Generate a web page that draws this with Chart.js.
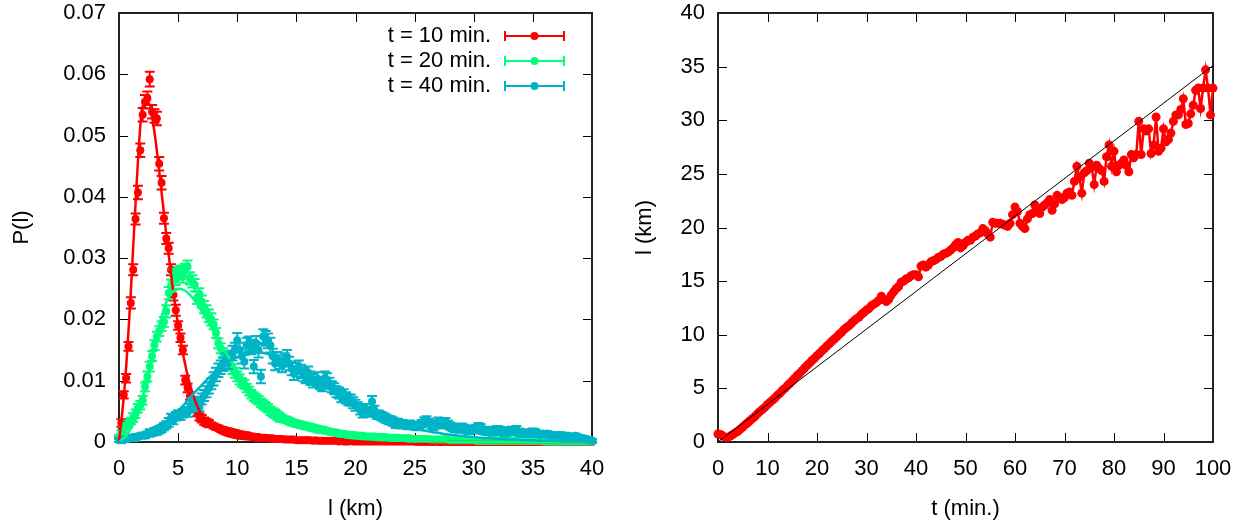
<!DOCTYPE html>
<html><head><meta charset="utf-8">
<script src="https://cdn.jsdelivr.net/npm/chart.js@4.4.1/dist/chart.umd.min.js"></script>
<style>
body{margin:0;background:#fff;}
#wrap{position:relative;width:1250px;height:523px;overflow:hidden;}
.c{position:absolute;top:0;width:625px;height:523px;}
</style></head>
<body><div id="wrap">
<div class="c" style="left:0"><canvas id="left" width="625" height="523"></canvas></div>
<div class="c" style="left:625px"><canvas id="right" width="625" height="523"></canvas></div>
</div>
<script>
// ---------- LEFT PANEL DATA ----------
const seriesNames = ['t = 10 min.', 't = 20 min.', 't = 40 min.'];
const seriesColors = ['#ff0000', '#00ff7f', '#00b4c8'];

const lengthKm = [
0,0.2,0.4,0.6,0.8,1,1.2,1.4,1.6,1.8,
2,2.2,2.4,2.6,2.8,3,3.2,3.4,3.6,3.8,
4,4.2,4.4,4.6,4.8,5,5.2,5.4,5.6,5.8,
6,6.2,6.4,6.6,6.8,7,7.2,7.4,7.6,7.8,
8,8.2,8.4,8.6,8.8,9,9.2,9.4,9.6,9.8,
10,10.2,10.4,10.6,10.8,11,11.2,11.4,11.6,11.8,
12,12.2,12.4,12.6,12.8,13,13.2,13.4,13.6,13.8,
14,14.2,14.4,14.6,14.8,15,15.2,15.4,15.6,15.8,
16,16.2,16.4,16.6,16.8,17,17.2,17.4,17.6,17.8,
18,18.2,18.4,18.6,18.8,19,19.2,19.4,19.6,19.8,
20,20.2,20.4,20.6,20.8,21,21.2,21.4,21.6,21.8,
22,22.2,22.4,22.6,22.8,23,23.2,23.4,23.6,23.8,
24,24.2,24.4,24.6,24.8,25,25.2,25.4,25.6,25.8,
26,26.2,26.4,26.6,26.8,27,27.2,27.4,27.6,27.8,
28,28.2,28.4,28.6,28.8,29,29.2,29.4,29.6,29.8,
30,30.2,30.4,30.6,30.8,31,31.2,31.4,31.6,31.8,
32,32.2,32.4,32.6,32.8,33,33.2,33.4,33.6,33.8,
34,34.2,34.4,34.6,34.8,35,35.2,35.4,35.6,35.8,
36,36.2,36.4,36.6,36.8,37,37.2,37.4,37.6,37.8,
38,38.2,38.4,38.6,38.8,39,39.2,39.4,39.6,39.8,
40];

const prob10 = [
.0008,.0031,.0077,.0104,.0156,.0227,.0281,.0364,.0407,.0476,
.0534,.0555,.0561,.0592,.0539,.0532,.0528,.0454,.0423,.0365,
.0332,.0316,.0281,.0240,.0215,.0190,.0170,.0150,.0101,.0088,
.0075,.0062,.0055,.0048,.0041,.0038,.0034,.0032,.0030,.0028,
.0026,.0024,.0023,.0021,.0020,.0019,.0018,.0017,.0016,.0015,
.0014,.0013,.0012,.0012,.0011,.0010,.0009,.0009,.0008,.0008,
.0007,.0007,.0007,.0006,.0006,.0006,.0005,.0005,.0005,.0005,
.0004,.0004,.0004,.0004,.0004,.0003,.0003,.0003,.0003,.0003,
.0003,.0003,.0002,.0003,.0002,.0002,.0002,.0002,.0002,.0002,
.0002,.0002,.0002,.0001,.0002,.0001,.0001,.0001,.0002,.0001,
.0001,.0001,.0001,.0001,.0001,.0001,.0001,.0001,.0001,.0001,
.0001,.0001,.0001,.0001,.0001,.0001,.0001,.0001,.0001,.0001,
.0001,.0001,.0001,.0001,.0001,.0001,0,.0001,0,.0001,
0,.0001,0,0,.0001,0,0,0,.0001,0,
0,0,0,0,0,0,0,0,0,0,
0,0,0,0,0,0,0,0,0,0,
0,0,0,0,0,0,0,0,0,0,
0,0,0,0,0,0,0,0,0,0,
0,0,0,0,0,0,0,0,0,0,
0,0,0,0,0,0,0,0,0,0,
0];
const err10 = [
.0002,.0006,.0006,.0007,.0007,.0009,.0009,.0009,.0011,.0011,
.0011,.0011,.0011,.0012,.0011,.0011,.0011,.0011,.0011,.0009,
.0009,.0009,.0009,.0009,.0009,.0007,.0007,.0007,.0007,.0007,
.0006,.0006,.0006,.0006,.0006,.0006,.0006,.0006,.0006,.0004,
.0004,.0004,.0004,.0004,.0004,.0004,.0004,.0004,.0004,.0004,
.0004,.0004,.0004,.0004,.0004,.0003,.0002,.0002,.0002,.0002,
.0002,.0002,.0002,.0002,.0002,.0002,.0002,.0002,.0002,.0002,
.0002,.0002,.0002,.0002,.0002,.0002,.0002,.0002,.0002,.0002,
.0002,.0002,.0002,.0002,.0002,.0002,.0002,.0002,.0002,.0002,
.0002,.0002,.0002,.0002,.0002,.0002,.0002,.0002,.0002,.0002,
.0001,.0001,.0001,.0001,.0001,.0001,.0001,.0001,.0001,.0001,
.0001,.0001,.0001,.0001,.0001,.0001,.0001,.0001,.0001,.0001,
.0001,.0001,.0001,.0001,.0001,.0001,.0001,.0001,.0001,.0001,
.0001,.0001,.0001,.0001,.0001,.0001,.0001,.0001,.0001,.0001,
.0001,.0001,.0001,.0001,.0001,.0001,.0001,.0001,.0001,.0001,
.0001,.0001,.0001,.0001,.0001,.0001,.0001,.0001,.0001,.0001,
.0001,.0001,.0001,.0001,.0001,.0001,.0001,.0001,.0001,.0001,
.0001,.0001,.0001,.0001,.0001,.0001,.0001,.0001,.0001,.0001,
.0001,.0001,.0001,.0001,.0001,.0001,.0001,.0001,.0001,.0001,
.0001,.0001,.0001,.0001,.0001,.0001,.0001,.0001,.0001,.0001,
.0001];

const prob20 = [
.0008,.0015,.0020,.0026,.0030,.0034,.0040,.0046,.0055,.0060,
.0068,.0090,.0107,.0123,.0140,.0158,.0172,.0181,.0189,.0196,
.0213,.0243,.0255,.0272,.0266,.0275,.0278,.0270,.0281,.0286,
.0267,.0262,.0256,.0235,.0241,.0229,.0220,.0213,.0206,.0200,
.0192,.0178,.0161,.0153,.0145,.0138,.0132,.0126,.0119,.0113,
.0107,.0102,.0097,.0094,.0088,.0083,.0078,.0074,.0071,.0068,
.0064,.0061,.0058,.0055,.0051,.0048,.0046,.0043,.0040,.0039,
.0037,.0036,.0034,.0032,.0031,.0030,.0029,.0028,.0027,.0026,
.0025,.0024,.0023,.0022,.0021,.0020,.0020,.0019,.0018,.0017,
.0016,.0016,.0015,.0014,.0013,.0013,.0012,.0012,.0011,.0011,
.0011,.0010,.0010,.0010,.0009,.0009,.0009,.0009,.0009,.0008,
.0008,.0008,.0008,.0008,.0007,.0007,.0007,.0007,.0007,.0006,
.0006,.0006,.0006,.0006,.0005,.0005,.0005,.0005,.0005,.0005,
.0005,.0005,.0004,.0004,.0004,.0004,.0004,.0004,.0004,.0004,
.0003,.0003,.0003,.0003,.0003,.0003,.0003,.0003,.0003,.0003,
.0003,.0002,.0002,.0002,.0002,.0002,.0002,.0002,.0002,.0002,
.0002,.0002,.0002,.0002,.0002,.0002,.0002,.0002,.0002,.0002,
.0002,.0002,.0002,.0002,.0002,.0002,.0002,.0002,.0002,.0002,
.0001,.0001,.0001,.0001,.0001,.0001,.0001,.0001,.0001,.0001,
.0001,.0001,.0001,.0001,.0001,.0001,.0001,.0001,.0001,.0001,
.0001];
const err20 = [
.0003,.0004,.0005,.0005,.0005,.0005,.0007,.0007,.0007,.0007,
.0007,.0007,.0008,.0008,.0008,.0008,.0008,.0008,.0008,.0008,
.0010,.0010,.0010,.0010,.0010,.0010,.0010,.0010,.0010,.0010,
.0010,.0010,.0010,.0010,.0010,.0010,.0010,.0010,.0010,.0010,
.0008,.0008,.0008,.0008,.0008,.0008,.0008,.0008,.0008,.0008,
.0008,.0008,.0007,.0007,.0007,.0007,.0007,.0007,.0007,.0007,
.0007,.0007,.0007,.0007,.0007,.0007,.0007,.0007,.0007,.0005,
.0005,.0005,.0005,.0005,.0005,.0005,.0005,.0005,.0005,.0005,
.0005,.0005,.0005,.0005,.0005,.0005,.0005,.0004,.0004,.0004,
.0004,.0004,.0004,.0004,.0004,.0004,.0004,.0004,.0004,.0004,
.0004,.0003,.0003,.0003,.0003,.0003,.0003,.0003,.0003,.0003,
.0003,.0003,.0003,.0003,.0003,.0003,.0003,.0003,.0003,.0003,
.0003,.0003,.0003,.0003,.0003,.0003,.0003,.0003,.0003,.0003,
.0003,.0003,.0003,.0003,.0003,.0003,.0003,.0003,.0003,.0003,
.0003,.0003,.0003,.0003,.0003,.0003,.0003,.0003,.0003,.0003,
.0002,.0002,.0002,.0002,.0002,.0002,.0002,.0002,.0002,.0002,
.0002,.0002,.0002,.0002,.0002,.0002,.0002,.0002,.0002,.0002,
.0002,.0002,.0002,.0002,.0002,.0002,.0002,.0002,.0002,.0002,
.0002,.0002,.0002,.0002,.0002,.0002,.0002,.0002,.0002,.0002,
.0002,.0002,.0002,.0002,.0002,.0002,.0002,.0002,.0002,.0002,
.0002];

const prob40 = [
.0003,.0004,.0003,.0005,.0006,.0007,.0008,.0006,.0009,.0010,
.0011,.0010,.0013,.0015,.0014,.0017,.0018,.0020,.0022,.0025,
.0028,.0032,.0039,.0036,.0042,.0045,.0043,.0047,.0050,.0048,
.0055,.0063,.0060,.0065,.0057,.0070,.0076,.0082,.0088,.0095,
.0103,.0110,.0117,.0122,.0127,.0134,.0130,.0138,.0145,.0150,
.0166,.0150,.0140,.0131,.0158,.0160,.0155,.0123,.0161,.0150,
.0107,.0172,.0169,.0165,.0158,.0140,.0128,.0136,.0130,.0125,
.0134,.0139,.0128,.0120,.0112,.0118,.0122,.0115,.0110,.0107,
.0112,.0104,.0100,.0098,.0103,.0095,.0092,.0104,.0101,.0096,
.0090,.0087,.0082,.0080,.0074,.0077,.0072,.0069,.0068,.0064,
.0060,.0058,.0052,.0047,.0055,.0050,.0048,.0066,.0052,.0045,
.0044,.0042,.0040,.0038,.0036,.0035,.0033,.0030,.0031,.0029,
.0030,.0028,.0027,.0029,.0027,.0026,.0025,.0027,.0030,.0034,
.0036,.0032,.0028,.0025,.0029,.0034,.0030,.0028,.0033,.0029,
.0026,.0024,.0022,.0023,.0021,.0024,.0022,.0020,.0019,.0021,
.0020,.0022,.0025,.0023,.0019,.0018,.0017,.0019,.0016,.0018,
.0020,.0019,.0017,.0015,.0016,.0018,.0019,.0017,.0020,.0016,
.0015,.0014,.0015,.0013,.0014,.0016,.0015,.0013,.0012,.0014,
.0013,.0014,.0011,.0012,.0010,.0011,.0012,.0010,.0011,.0009,
.0010,.0009,.0008,.0010,.0008,.0007,.0006,.0005,.0004,.0003,
.0002];
const err40 = [
.0003,.0003,.0003,.0004,.0004,.0004,.0004,.0004,.0004,.0004,
.0004,.0004,.0004,.0006,.0004,.0006,.0006,.0006,.0006,.0006,
.0006,.0007,.0007,.0007,.0007,.0007,.0007,.0007,.0007,.0007,
.0007,.0009,.0009,.0009,.0007,.0009,.0009,.0009,.0009,.0009,
.0011,.0011,.0011,.0011,.0011,.0011,.0011,.0011,.0012,.0012,
.0012,.0012,.0012,.0011,.0012,.0012,.0012,.0011,.0012,.0012,
.0011,.0012,.0012,.0012,.0012,.0012,.0011,.0011,.0011,.0011,
.0011,.0011,.0011,.0011,.0011,.0011,.0011,.0011,.0011,.0011,
.0011,.0011,.0011,.0009,.0011,.0009,.0009,.0011,.0011,.0009,
.0009,.0009,.0009,.0009,.0009,.0009,.0009,.0009,.0009,.0009,
.0009,.0007,.0007,.0007,.0007,.0007,.0007,.0009,.0007,.0007,
.0007,.0007,.0007,.0007,.0007,.0007,.0007,.0007,.0007,.0007,
.0006,.0006,.0006,.0006,.0006,.0006,.0006,.0006,.0006,.0006,
.0006,.0006,.0006,.0006,.0006,.0006,.0006,.0006,.0006,.0006,
.0006,.0006,.0006,.0006,.0006,.0006,.0006,.0006,.0006,.0006,
.0006,.0006,.0006,.0006,.0006,.0006,.0006,.0006,.0006,.0006,
.0006,.0006,.0006,.0006,.0006,.0006,.0006,.0006,.0006,.0006,
.0006,.0004,.0006,.0004,.0004,.0006,.0006,.0004,.0004,.0004,
.0004,.0004,.0004,.0004,.0004,.0004,.0004,.0004,.0004,.0004,
.0004,.0004,.0004,.0004,.0004,.0004,.0004,.0004,.0004,.0004,
.0003];

// fitted curves
const fitKm = [
0,0.5,1,1.5,2,2.5,3,3.5,4,4.5,
5,5.5,6,6.5,7,7.5,8,8.5,9,9.5,
10,10.5,11,11.5,12,12.5,13,13.5,14,14.5,
15,15.5,16,16.5,17,17.5,18,18.5,19,19.5,
20,20.5,21,21.5,22,22.5,23,23.5,24,24.5,
25,25.5,26,26.5,27,27.5,28,28.5,29,29.5,
30,30.5,31,31.5,32,32.5,33,33.5,34,34.5,
35,35.5,36,36.5,37,37.5,38,38.5,39,39.5,
40];
const fit10 = [
0,.0095,.0245,.0425,.0548,.0553,.0505,.0425,.0338,.0258,
.0190,.0135,.0094,.0064,.0044,.0030,.0021,.0015,.0011,.0008,
.0006,.0005,.0004,.0003,.0002,.0002,.0001,.0001,.0001,.0001,
0,0,0,0,0,0,0,0,0,0,
0,0,0,0,0,0,0,0,0,0,
0,0,0,0,0,0,0,0,0,0,
0,0,0,0,0,0,0,0,0,0,
0,0,0,0,0,0,0,0,0,0,
0];
const fit20 = [
0,.0008,.0022,.0042,.0072,.0112,.0158,.0198,.0228,.0244,
.0250,.0248,.0240,.0228,.0213,.0197,.0180,.0163,.0147,.0131,
.0117,.0103,.0091,.0080,.0070,.0061,.0053,.0046,.0040,.0034,
.0030,.0026,.0022,.0019,.0016,.0014,.0012,.0010,.0009,.0007,
.0006,.0005,.0005,.0004,.0003,.0003,.0002,.0002,.0002,.0001,
.0001,.0001,.0001,.0001,.0001,.0001,0,0,0,0,
0,0,0,0,0,0,0,0,0,0,
0,0,0,0,0,0,0,0,0,0,
0];
const fit40 = [
0,.0001,.0002,.0004,.0007,.0011,.0016,.0023,.0031,.0040,
.0050,.0061,.0072,.0083,.0093,.0103,.0112,.0120,.0128,.0134,
.0139,.0143,.0145,.0146,.0146,.0144,.0141,.0137,.0132,.0127,
.0121,.0115,.0109,.0102,.0096,.0090,.0083,.0077,.0071,.0066,
.0060,.0055,.0050,.0046,.0042,.0038,.0034,.0031,.0028,.0025,
.0023,.0020,.0018,.0016,.0015,.0013,.0012,.0011,.0010,.0009,
.0008,.0007,.0006,.0006,.0005,.0005,.0004,.0004,.0003,.0003,
.0003,.0002,.0002,.0002,.0002,.0001,.0001,.0001,.0001,.0001,
.0001];

// ---------- RIGHT PANEL DATA ----------
const timeMin = [
0,0.5,1,1.5,2,2.5,3,3.5,4,4.5,
5,5.5,6,6.5,7,7.5,8,8.5,9,9.5,
10,10.5,11,11.5,12,12.5,13,13.5,14,14.5,
15,15.5,16,16.5,17,17.5,18,18.5,19,19.5,
20,20.5,21,21.5,22,22.5,23,23.5,24,24.5,
25,25.5,26,26.5,27,27.5,28,28.5,29,29.5,
30,30.5,31,31.5,32,32.5,33,33.5,34,34.5,
35,35.5,36,36.5,37,37.5,38,38.5,39,39.5,
40,40.5,41,41.5,42,42.5,43,43.5,44,44.5,
45,45.5,46,46.5,47,47.5,48,48.5,49,49.5,
50,50.5,51,51.5,52,52.5,53,53.5,54,54.5,
55,55.5,56,56.5,57,57.5,58,58.5,59,59.5,
60,60.5,61,61.5,62,62.5,63,63.5,64,64.5,
65,65.5,66,66.5,67,67.5,68,68.5,69,69.5,
70,70.5,71,71.5,72,72.5,73,73.5,74,74.5,
75,75.5,76,76.5,77,77.5,78,78.5,79,79.5,
80,80.5,81,81.5,82,82.5,83,83.5,84,84.5,
85,85.5,86,86.5,87,87.5,88,88.5,89,89.5,
90,90.5,91,91.5,92,92.5,93,93.5,94,94.5,
95,95.5,96,96.5,97,97.5,98,98.5,99,99.5,
100];
const distanceKm = [
0.75,0.70,0.55,0.45,0.45,0.55,0.70,0.85,1.00,1.20,
1.40,1.60,1.80,2.00,2.20,2.40,2.65,2.85,3.05,3.25,
3.50,3.70,3.90,4.10,4.35,4.55,4.80,5.00,5.25,5.45,
5.70,5.95,6.20,6.40,6.65,6.90,7.15,7.35,7.60,7.80,
8.05,8.25,8.50,8.70,8.95,9.15,9.40,9.60,9.80,10.05,
10.25,10.50,10.70,10.85,11.10,11.30,11.50,11.65,11.90,12.10,
12.30,12.45,12.70,12.85,13.00,13.20,13.60,13.30,13.10,13.30,
13.70,14.00,14.30,14.50,14.90,15.00,15.20,15.30,15.50,15.60,
15.60,15.40,16.40,16.50,16.30,16.50,16.80,16.90,17.00,17.20,
17.30,17.50,17.60,17.70,17.90,18.10,18.40,18.60,18.10,18.30,
18.60,18.80,18.80,19.10,19.20,19.40,19.50,19.90,19.70,19.40,
19.10,20.50,20.40,20.40,20.40,20.30,20.20,20.10,20.40,21.20,
21.90,21.50,20.40,20.10,19.90,20.80,21.20,21.30,22.10,21.80,
21.30,21.90,22.10,22.30,22.60,21.60,22.20,23.00,22.80,22.60,
22.80,23.20,23.30,23.00,24.30,25.70,24.70,23.20,25.10,25.30,
26.00,25.60,24.00,25.80,25.50,25.30,24.30,26.60,27.70,25.70,
27.10,25.20,25.80,26.00,26.30,25.80,25.20,26.80,26.50,26.80,
29.90,26.80,29.20,29.00,29.20,26.90,27.70,30.30,27.10,27.40,
29.20,28.00,28.20,28.80,29.90,30.50,30.50,31.00,32.00,29.60,
29.70,30.60,31.40,32.80,33.00,31.10,33.00,34.70,33.00,30.50,
33.00];
const refLineT = [0, 100];
const refLineKm = [0, 35.1];

// ---------- RENDERING ----------
const FONT = "'Liberation Sans', Arial, sans-serif";
Chart.defaults.font.family = FONT;
Chart.defaults.font.size = 22;
Chart.defaults.color = '#000';
Chart.defaults.animation = false;

const pts = (xs, ys) => xs.map((x, i) => ({x: x, y: ys[i]}));

const framePlugin = {
  id: 'gpFrame',
  beforeDatasetsDraw(chart) {
    const {ctx, chartArea: {left, right, top, bottom}, scales: {x, y}} = chart;
    const L = 9;
    ctx.save();
    ctx.strokeStyle = '#000';
    ctx.lineWidth = 1;
    ctx.beginPath();
    x.ticks.forEach(t => {
      const px = Math.round(x.getPixelForValue(t.value)) + 0.5;
      ctx.moveTo(px, bottom); ctx.lineTo(px, bottom - L);
      ctx.moveTo(px, top); ctx.lineTo(px, top + L);
    });
    y.ticks.forEach(t => {
      const py = Math.round(y.getPixelForValue(t.value)) + 0.5;
      ctx.moveTo(left, py); ctx.lineTo(left + L, py);
      ctx.moveTo(right, py); ctx.lineTo(right - L, py);
    });
    ctx.stroke();
    ctx.lineWidth = 2;
    ctx.strokeStyle = '#222';
    ctx.strokeRect(left, top, right - left, bottom - top);
    ctx.restore();
  }
};

const errorBarPlugin = {
  id: 'gpErrorBars',
  beforeDatasetDraw(chart, args) {
    const ds = chart.data.datasets[args.index];
    if (!ds.errorBars) return;
    const {ctx} = chart;
    const xs = chart.scales.x, ys = chart.scales.y;
    const cap = 5;
    ctx.save();
    ctx.strokeStyle = ds.borderColor;
    ctx.lineWidth = 2;
    ctx.beginPath();
    ds.data.forEach((p, i) => {
      const e = ds.errorBars[i];
      const px = xs.getPixelForValue(p.x);
      const y1 = ys.getPixelForValue(p.y - e);
      const y2 = ys.getPixelForValue(p.y + e);
      ctx.moveTo(px, y1); ctx.lineTo(px, y2);
      ctx.moveTo(px - cap, y1); ctx.lineTo(px + cap, y1);
      ctx.moveTo(px - cap, y2); ctx.lineTo(px + cap, y2);
    });
    ctx.stroke();
    ctx.restore();
  }
};

const legendPlugin = {
  id: 'gpLegend',
  afterDraw(chart) {
    const {ctx} = chart;
    ctx.save();
    ctx.font = "22px " + FONT;
    ctx.textAlign = 'right';
    ctx.textBaseline = 'middle';
    seriesNames.forEach((name, i) => {
      const yy = 36 + i * 25;
      ctx.fillStyle = '#000';
      ctx.fillText(name, 491, yy);
      ctx.strokeStyle = seriesColors[i];
      ctx.lineWidth = 2;
      ctx.beginPath();
      ctx.moveTo(505, yy); ctx.lineTo(564, yy);
      ctx.moveTo(505, yy - 5); ctx.lineTo(505, yy + 5);
      ctx.moveTo(564, yy - 5); ctx.lineTo(564, yy + 5);
      ctx.stroke();
      ctx.fillStyle = seriesColors[i];
      ctx.beginPath();
      ctx.arc(534.5, yy, 4, 0, Math.PI * 2);
      ctx.fill();
    });
    ctx.restore();
  }
};

// remove Chart.js automatic label-overflow padding so that layout.padding fixes the plot box
const fixY = w => s => { s.width = w; s.paddingTop = 0; s.paddingBottom = 0; };
const fixX = h => s => { s.height = h; s.paddingLeft = 0; s.paddingRight = 0; };

const dataSet = (vals, errs, i, order) => ({
  data: pts(lengthKm, vals), errorBars: errs,
  borderColor: seriesColors[i], backgroundColor: seriesColors[i],
  pointRadius: 4, pointBorderWidth: 0, showLine: false, clip: false, order: order
});
const fitSet = (vals, i, order) => ({
  data: pts(fitKm, vals), borderColor: seriesColors[i], backgroundColor: seriesColors[i],
  borderWidth: 2.5, pointRadius: 0, showLine: true, cubicInterpolationMode: 'monotone',
  clip: false, order: order
});

new Chart(document.getElementById('left'), {
  type: 'scatter',
  data: { datasets: [
    dataSet(prob10, err10, 0, 6),
    dataSet(prob20, err20, 1, 5),
    dataSet(prob40, err40, 2, 4),
    fitSet(fit10, 0, 3),
    fitSet(fit20, 1, 2),
    fitSet(fit40, 2, 1)
  ]},
  options: {
    responsive: false,
    layout: { padding: { left: 0, right: 33, top: 13, bottom: 0 } },
    plugins: { legend: { display: false }, tooltip: { enabled: false } },
    scales: {
      x: {
        type: 'linear', min: 0, max: 40,
        grid: { display: false, drawTicks: false }, border: { display: false },
        ticks: { stepSize: 5, padding: 14, maxRotation: 0 },
        title: { display: true, text: 'l (km)', padding: { top: 0, bottom: 1 } },
        afterFit: fixX(81)
      },
      y: {
        min: 0, max: 0.07,
        grid: { display: false, drawTicks: false }, border: { display: false },
        ticks: { stepSize: 0.01, padding: 13, callback: v => String(Number(v.toFixed(2))) },
        title: { display: true, text: 'P(l)', padding: { top: 9, bottom: 0 } },
        afterFit: fixY(119)
      }
    }
  },
  plugins: [framePlugin, errorBarPlugin, legendPlugin]
});

new Chart(document.getElementById('right'), {
  type: 'scatter',
  data: { datasets: [
    { data: pts(timeMin, distanceKm), borderColor: '#ff0000', backgroundColor: '#ff0000',
      borderWidth: 2.5, pointRadius: 4.5, pointBorderWidth: 0, showLine: true, clip: false, order: 2 },
    { data: pts(refLineT, refLineKm), borderColor: '#000', backgroundColor: '#000',
      borderWidth: 1, pointRadius: 0, showLine: true, order: 1 }
  ]},
  options: {
    responsive: false,
    layout: { padding: { left: 0, right: 37, top: 13, bottom: 0 } },
    plugins: { legend: { display: false }, tooltip: { enabled: false } },
    scales: {
      x: {
        type: 'linear', min: 0, max: 100,
        grid: { display: false, drawTicks: false }, border: { display: false },
        ticks: { stepSize: 10, padding: 14, maxRotation: 0 },
        title: { display: true, text: 't (min.)', padding: { top: 0, bottom: 1 } },
        afterFit: fixX(81)
      },
      y: {
        min: 0, max: 40,
        grid: { display: false, drawTicks: false }, border: { display: false },
        ticks: { stepSize: 5, padding: 13 },
        title: { display: true, text: 'l (km)', padding: { top: 7, bottom: 0 } },
        afterFit: fixY(93)
      }
    }
  },
  plugins: [framePlugin]
});
</script>
</body></html>
